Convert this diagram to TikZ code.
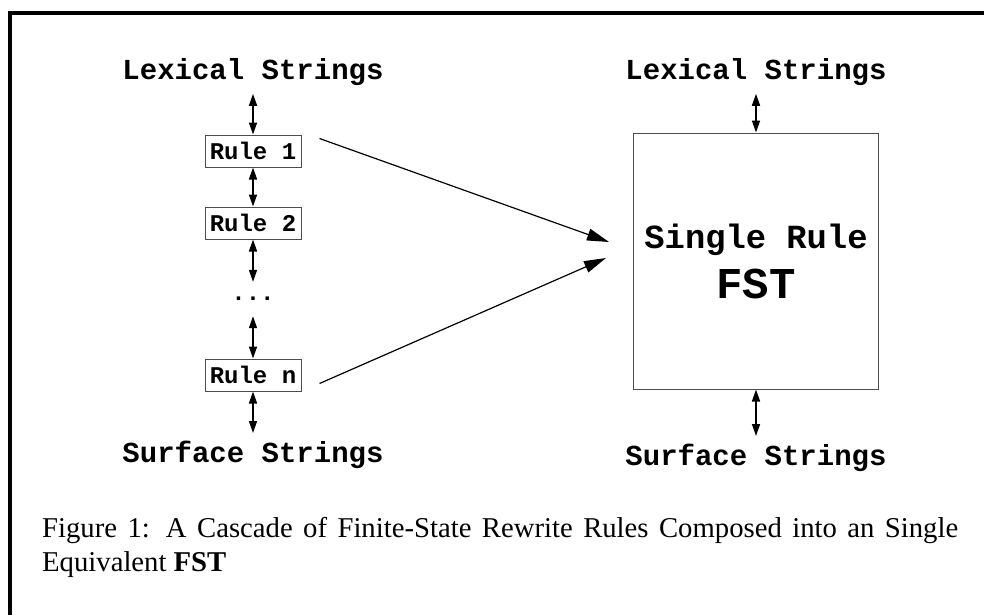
\documentclass[tikz,border=0pt]{standalone}
\usepackage{fontspec}
\setmainfont{Liberation Serif}
\setmonofont{Liberation Mono}
\usetikzlibrary{positioning,arrows.meta}

\tikzset{
  strings/.style={font=\fontsize{29}{34}\selectfont\ttfamily\bfseries,inner sep=8pt},
  rulebox/.style={draw=black!70,line width=1pt,font=\fontsize{24}{28}\selectfont\ttfamily\bfseries,
    minimum width=96pt,minimum height=32pt,inner sep=0pt},
  fstbox/.style={draw=black!70,line width=1pt,minimum width=245pt,minimum height=256pt,
    align=center,font=\fontsize{33.8}{50}\selectfont\ttfamily\bfseries},
  link/.style={line width=1.5pt,{Triangle[length=12pt,width=8pt]}-{Triangle[length=12pt,width=8pt]}},
  into/.style={line width=1.2pt,-{Triangle[length=22pt,width=12pt]}},
}

\begin{document}
\begin{tikzpicture}[x=1pt,y=-1pt,on grid]
\useasboundingbox (0,0) rectangle (984,615);
\draw[line width=4pt] (10,615) -- (10,13) -- (984,13);

% cascade of rules
\node[strings] (lexL) at (253,72) {Lexical Strings};
\node[rulebox] (r1) [below=79pt of lexL] {Rule 1};
\node[rulebox] (r2) [below=72pt of r1] {Rule 2};
\node[font=\fontsize{24}{28}\selectfont\ttfamily\bfseries,minimum height=34pt,inner sep=0pt]
  (dots) [below=76pt of r2] {...};
\node[rulebox] (rn) [below=76pt of dots] {Rule n};
\node[strings] (surfL) [below=80pt of rn] {Surface Strings};

% single composed rule
\node[strings] (lexR) [right=503pt of lexL] {Lexical Strings};
\node[fstbox] (fst) [below=189pt of lexR] {Single Rule\\{\fontsize{44}{50}\selectfont FST}};
\node[strings] (surfR) [below=197pt of fst] {Surface Strings};

\path[link]
(lexL) edge (r1)
(r1) edge (r2)
(r2) edge (dots)
(dots) edge (rn)
(rn) edge (surfL)
(lexR) edge (fst)
(fst) edge (surfR)
;

\coordinate (from1) at ([xshift=18pt,yshift=-4pt]r1.north east);
\coordinate (fromn) at ([xshift=18pt,yshift=8pt]rn.south east);
\coordinate (to1) at ([xshift=-24pt,yshift=19pt]fst.west);
\coordinate (ton) at ([xshift=-27pt,yshift=3pt]fst.west);
\draw[into] (from1) -- (to1);
\draw[into] (fromn) -- (ton);

\node[anchor=north west,text width=916pt,align=justify,inner sep=0pt,
  font=\fontsize{28.7}{34.4}\selectfont] (caption) at (42,517)
  {\tolerance=10000 Figure 1: A Cascade of Finite-State Rewrite Rules Composed into an Single Equivalent \textbf{FST}};
\end{tikzpicture}
\end{document}
